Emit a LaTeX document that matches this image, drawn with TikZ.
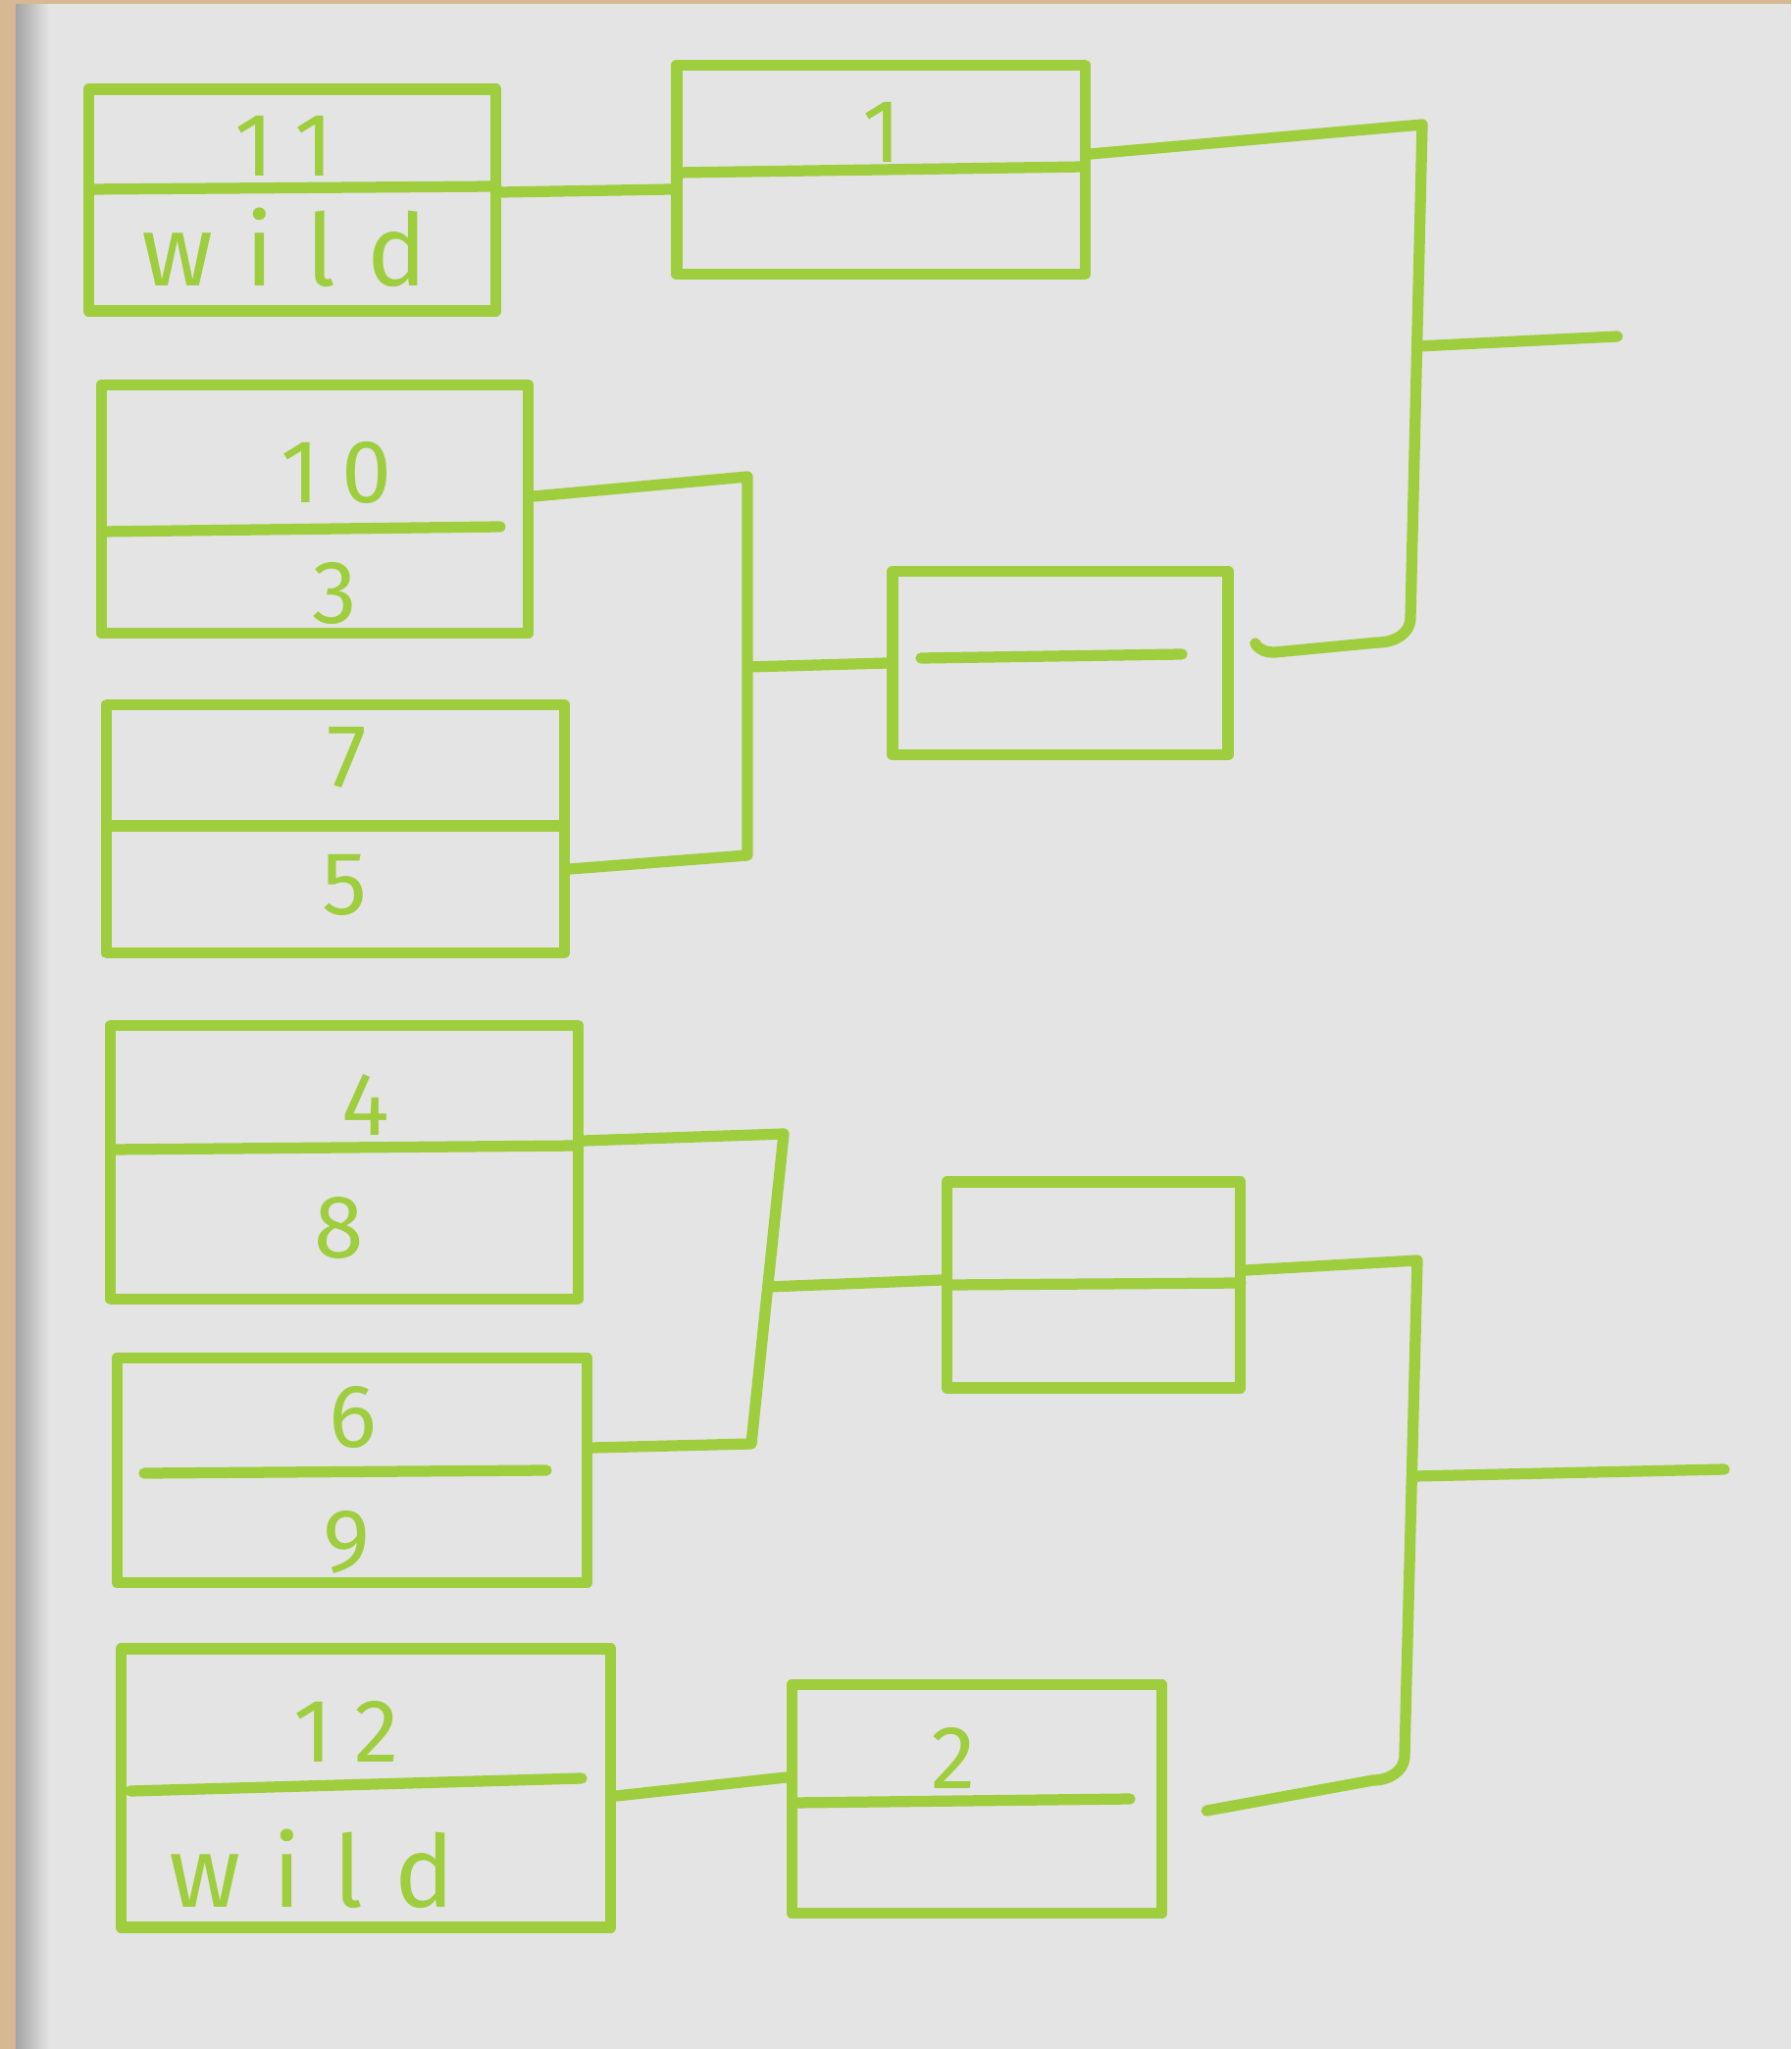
\documentclass[tikz,border=0pt]{standalone}
\usepackage{fontspec}
\setmainfont{Fira Sans}
\usetikzlibrary{calc}
\definecolor{marker}{RGB}{158,206,62}
\definecolor{board}{RGB}{228,228,229}
\definecolor{frame}{RGB}{214,184,146}
\begin{document}
\begin{tikzpicture}[x=0.01cm,y=-0.01cm, line width=3.2pt, line cap=round, line join=round,
  box/.style={draw=marker, rectangle, inner sep=0pt},
  wire/.style={draw=marker},
  num/.style={text=marker, font=\fontsize{26}{26}\selectfont\addfontfeature{LetterSpace=25}, inner sep=0pt},
  word/.style={text=marker, font=\fontsize{29}{29}\selectfont\addfontfeature{LetterSpace=32}, inner sep=0pt}]
\path[use as bounding box] (0,0) rectangle (1826,2089);
% board background
\fill[board] (0,0) rectangle (1826,2089);
\shade[left color=black!30!board, right color=board, draw=none] (14,0) rectangle (50,2089);
\fill[frame] (0,0) rectangle (16,2089);
\fill[frame] (0,0) rectangle (1826,4);

% boxes
\node[box, minimum width=4.15cm, minimum height=2.26cm] (A) at (298,204) {};
\draw[wire] (91,193) -- (506,190);
\node[box, minimum width=4.16cm, minimum height=2.13cm] (B) at (898,173) {};
\draw[wire] (690,176) -- (1106,170);
\node[box, minimum width=4.35cm, minimum height=2.53cm] (C) at (321,519) {};
\draw[wire] (104,542) -- (510,537);
\node[box, minimum width=4.66cm, minimum height=2.53cm] (D) at (342,845) {};
\draw[wire] (109,842) -- (575,842);
\node[box, minimum width=3.42cm, minimum height=1.87cm] (E) at (1081,676) {};
\draw[wire] (939,671) -- (1205,667);
\node[box, minimum width=4.76cm, minimum height=2.79cm] (F) at (351,1185) {};
\draw[wire] (113,1172) -- (589,1168);
\node[box, minimum width=4.79cm, minimum height=2.29cm] (G) at (359,1499) {};
\draw[wire] (147,1502) -- (557,1499);
\node[box, minimum width=2.99cm, minimum height=2.10cm] (H) at (1115,1310) {};
\draw[wire] (966,1310) -- (1265,1308);
\node[box, minimum width=4.99cm, minimum height=2.84cm] (I) at (373,1823) {};
\draw[wire] (133,1826) -- (593,1813);
\node[box, minimum width=3.77cm, minimum height=2.33cm] (J) at (996,1834) {};
\draw[wire] (808,1838) -- (1152,1834);

% labels
\node[num] (tA1) at (290,149) {11};
\node[word] (tA2) at (290,252) {wild};
\node[num] (tB1) at (899,135) {1};
\node[num] (tC1) at (343,482) {10};
\node[num] (tC2) at (341,605) {3};
\node[num] (tD1) at (354,772) {7};
\node[num] (tD2) at (351,902) {5};
\node[num] (tF1) at (373,1126) {4};
\node[num] (tF2) at (346,1252) {8};
\node[num] (tG1) at (360,1445) {6};
\node[num] (tG2) at (353,1572) {9};
\node[num] (tI1) at (353,1765) {12};
\node[word] (tI2) at (318,1905) {wild};
\node[num] (tJ1) at (972,1792) {2};

% connectors
\draw[wire] ([yshift=0.08cm]A.east) -- ([yshift=-0.2cm]B.west);
\draw[wire] ([yshift=0.16cm]B.east) -- (1450,127) -- (1438,630)
  to[out=270,in=0] (1405,655) -- (1300,665) to[out=180,in=300] ([xshift=0.22cm,yshift=0.2cm]E.east);
\coordinate (tm) at (1446,353);
\coordinate (tw) at (1649,343);
\draw[wire] (tm) -- (tw);

\draw[wire] ([yshift=0.13cm]C.east) -- (762,486) -- (762,872) -- ([yshift=-0.41cm]D.east);
\coordinate (cdm) at (762,680);
\draw[wire] (cdm) -- (E.west);

\draw[wire] ([yshift=0.22cm]F.east) -- (799,1156) -- (766,1472) -- ([yshift=0.23cm]G.east);
\coordinate (fgm) at (783,1312);
\draw[wire] (fgm) -- ([yshift=0.05cm]H.west);

\draw[wire] ([yshift=0.15cm]H.east) -- (1445,1285) -- (1432,1790)
  to[out=270,in=0] (1400,1815) -- ([xshift=0.4cm,yshift=-0.12cm]J.east);
\coordinate (bm) at (1442,1505);
\coordinate (bw) at (1758,1498);
\draw[wire] (bm) -- (bw);

\draw[wire] ([yshift=-0.08cm]I.east) -- ([yshift=0.22cm]J.west);
\end{tikzpicture}
\end{document}
